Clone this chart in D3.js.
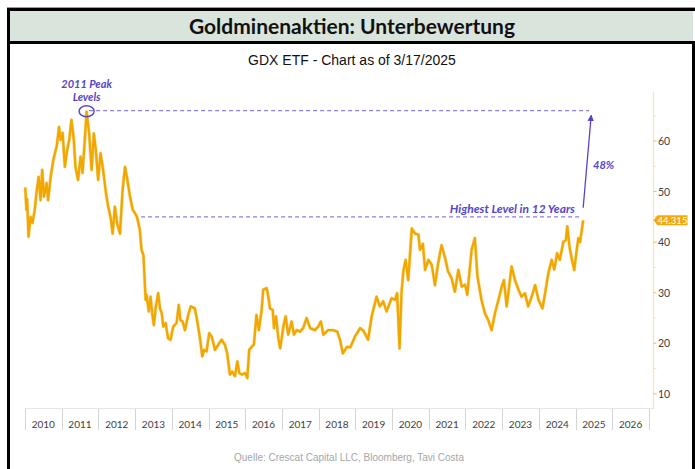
<!DOCTYPE html>
<html>
<head>
<meta charset="utf-8">
<script src="https://cdn.jsdelivr.net/npm/d3@7"></script>
<style>
  html, body { margin: 0; padding: 0; background: #fff; }
  svg { display: block; }
</style>
</head>
<body>
<div id="chart"></div>
<script>
// GDX price (roughly twice a month)
const dates = [
  "2010-01-04","2010-01-15","2010-01-22","2010-02-05","2010-02-25","2010-03-16","2010-04-08","2010-04-25","2010-05-17","2010-06-05","2010-06-21","2010-07-08","2010-08-04","2010-08-19","2010-09-13","2010-10-09","2010-10-26","2010-11-12","2010-12-06","2010-12-21",
  "2011-01-10","2011-02-02","2011-02-24","2011-03-17","2011-04-08","2011-05-02","2011-05-18","2011-06-13","2011-07-08","2011-07-27","2011-08-19","2011-09-06","2011-10-01","2011-10-26","2011-11-17","2011-12-07","2011-12-30",
  "2012-01-23","2012-02-17","2012-03-17","2012-04-08","2012-05-01","2012-05-22","2012-06-13","2012-07-06","2012-08-03","2012-08-29","2012-09-22","2012-10-16","2012-11-11","2012-12-08",
  "2013-01-01","2013-01-19","2013-02-03","2013-02-17","2013-03-05","2013-03-25","2013-04-15","2013-04-24","2013-05-17","2013-06-03","2013-06-19","2013-07-06","2013-07-26","2013-08-18","2013-09-05","2013-09-22","2013-10-08","2013-10-31","2013-11-25","2013-12-19",
  "2014-01-15","2014-02-17","2014-03-11","2014-03-27","2014-04-19","2014-05-11","2014-06-13","2014-07-08","2014-08-18","2014-09-09","2014-10-08","2014-10-31","2014-11-18","2014-12-13",
  "2015-01-08","2015-02-02","2015-03-07","2015-04-07","2015-05-11","2015-06-13","2015-07-05","2015-08-02","2015-08-25","2015-09-21","2015-10-15","2015-11-03","2015-11-28",
  "2016-01-01","2016-01-22","2016-02-10","2016-03-06","2016-03-28","2016-04-22","2016-05-16","2016-06-13","2016-06-28","2016-08-02","2016-08-18","2016-09-04","2016-10-01","2016-10-14","2016-11-03","2016-11-26","2016-12-14",
  "2017-01-15","2017-02-06","2017-03-04","2017-04-07","2017-04-30","2017-05-27","2017-06-28","2017-07-31","2017-09-03","2017-10-08","2017-11-25","2017-12-28",
  "2018-01-23","2018-02-17","2018-04-05","2018-05-25","2018-07-05","2018-08-01","2018-08-30","2018-10-10","2018-11-12","2018-12-28",
  "2019-02-17","2019-03-22","2019-05-08","2019-06-12","2019-07-31","2019-09-02","2019-10-05","2019-11-08","2019-12-28",
  "2020-01-30","2020-02-21","2020-03-16","2020-04-04","2020-04-22","2020-05-15","2020-06-10","2020-07-16","2020-08-18","2020-09-20","2020-10-05","2020-11-03","2020-11-25","2020-12-28",
  "2021-01-30","2021-03-03","2021-04-04","2021-05-08","2021-06-09","2021-07-12","2021-08-15","2021-09-17","2021-10-22","2021-11-25","2021-12-28",
  "2022-01-19","2022-03-03","2022-04-04","2022-04-30","2022-06-09","2022-07-12","2022-08-15","2022-09-18","2022-10-22","2022-11-25","2022-12-28",
  "2023-01-19","2023-02-15","2023-04-05","2023-05-08","2023-06-12","2023-07-13","2023-08-15","2023-09-17","2023-10-22","2023-11-25","2023-12-28",
  "2024-02-06","2024-03-03","2024-04-04","2024-05-08","2024-06-02","2024-07-01","2024-07-28","2024-09-01","2024-09-26","2024-10-10","2024-11-01","2024-11-25","2024-12-18",
  "2025-01-12","2025-01-28","2025-02-14","2025-03-17"
];
const prices = [
  50.8,46.4,48.5,41.1,45.0,43.8,46.4,49.7,52.9,48.3,54.3,49.0,51.7,48.3,52.9,56.2,57.6,58.9,62.8,60.2,
  61.6,54.9,58.2,60.2,64.2,60.2,54.9,52.3,56.9,53.7,60.2,65.8,61.5,54.3,61.5,58.2,52.3,
  57.6,54.3,49.7,47.0,45.0,41.7,47.0,43.7,41.7,50.3,54.9,52.3,49.0,46.4,
  45.7,45.0,43.7,42.4,38.5,37.4,28.6,29.6,26.3,29.2,26.0,23.6,27.3,29.9,26.9,26.0,23.3,24.0,21.0,20.7,
  23.3,24.0,27.6,24.6,24.3,22.6,25.6,27.3,26.9,24.6,21.0,17.4,18.7,18.4,
  22.0,21.3,18.7,19.7,20.7,19.7,18.1,13.8,14.4,13.5,16.4,14.1,13.8,
  14.1,13.1,18.7,19.3,19.8,25.6,22.6,26.6,30.6,30.9,29.2,26.9,26.6,23.0,25.3,21.0,19.0,
  23.3,25.3,21.7,24.3,21.7,22.6,22.3,23.0,25.0,23.0,22.6,23.3,
  24.3,21.7,22.6,22.6,22.3,20.7,18.0,19.3,19.2,21.3,
  23.0,22.5,20.7,25.3,29.2,27.3,28.3,26.3,28.9,
  28.6,29.9,19.0,29.9,34.2,36.5,32.5,42.7,41.7,41.5,38.5,39.7,34.5,36.5,
  35.5,31.5,35.8,39.4,37.1,34.2,32.9,30.2,34.5,31.2,31.6,
  29.6,38.5,40.8,33.2,28.6,26.0,24.6,22.6,26.0,28.6,31.2,
  32.5,27.3,35.2,32.5,30.6,29.2,29.9,27.3,29.2,31.5,28.6,
  26.9,29.9,33.8,36.5,34.6,37.8,36.5,40.1,40.4,43.1,39.1,36.5,34.5,
  38.5,40.8,40.0,44.315
];

const years = d3.range(2010, 2027);
const yTicks = [10, 20, 30, 40, 50, 60];
const yMinorTicks = [15, 25, 35, 45, 55, 65];

// annotation levels
const peakLevel = 66;
const highLevel = 45;
const lastPrice = 44.315;
const peakDate = "2011-09-06";

const W = 695, H = 469;
const parse = d3.timeParse("%Y-%m-%d");
const series = dates.map((d, i) => ({ date: parse(d), value: prices[i] }));

const svg = d3.select("#chart").append("svg").attr("width", W).attr("height", H);

// frame + header
svg.append("rect").attr("x", 8).attr("y", 10).attr("width", 685).attr("height", 32).attr("fill", "#d9e4dd");
svg.append("line").attr("x1", 7).attr("x2", 695).attr("y1", 7.5).attr("y2", 7.5).attr("stroke", "#9a9a9a").attr("stroke-width", 1);
svg.append("line").attr("x1", 7).attr("x2", 695).attr("y1", 9.5).attr("y2", 9.5).attr("stroke", "#000").attr("stroke-width", 3);
svg.append("line").attr("x1", 7).attr("x2", 695).attr("y1", 42.5).attr("y2", 42.5).attr("stroke", "#000").attr("stroke-width", 3);
svg.append("line").attr("x1", 8.5).attr("x2", 8.5).attr("y1", 8).attr("y2", H).attr("stroke", "#000").attr("stroke-width", 3);
svg.append("line").attr("x1", 693.5).attr("x2", 693.5).attr("y1", 41).attr("y2", H).attr("stroke", "#000").attr("stroke-width", 3);

svg.append("text").attr("x", 352).attr("y", 34).attr("text-anchor", "middle")
  .style("font-family", "Lato, 'Open Sans', sans-serif").style("font-weight", "bold").style("font-size", "21px")
  .attr("fill", "#111").text("Goldminenaktien: Unterbewertung");

svg.append("text").attr("x", 352).attr("y", 65).attr("text-anchor", "middle")
  .style("font-family", "'Liberation Sans', Arial, sans-serif").style("font-size", "14px")
  .attr("fill", "#111").text("GDX ETF - Chart as of 3/17/2025");

svg.append("text").attr("x", 349).attr("y", 461).attr("text-anchor", "middle")
  .style("font-family", "'Liberation Sans', Arial, sans-serif").style("font-size", "10px")
  .attr("fill", "#a6a6a6").text("Quelle: Crescat Capital LLC, Bloomberg, Tavi Costa");

// scales
const x = d3.scaleTime().domain([new Date(2010, 0, 1), new Date(2027, 0, 1)]).range([25, 649]);
const y = d3.scaleLinear().domain([7, 69.7]).range([409, 92]);

// x axis: year boxes
const gx = svg.append("g");
gx.append("line").attr("x1", 25).attr("x2", 653).attr("y1", 408.5).attr("y2", 408.5).attr("stroke", "#e6e6e6");
gx.selectAll("line.sep").data(d3.range(2010, 2028)).join("line").attr("class", "sep")
  .attr("x1", d => Math.round(x(new Date(d, 0, 1))) + 0.5).attr("x2", d => Math.round(x(new Date(d, 0, 1))) + 0.5)
  .attr("y1", 409).attr("y2", 430).attr("stroke", "#d4d4d4");
gx.selectAll("text").data(years).join("text")
  .attr("x", d => x(new Date(d, 6, 2))).attr("y", 428).attr("text-anchor", "middle")
  .style("font-family", "Lato, 'Open Sans', sans-serif").style("font-size", "10px").attr("fill", "#404040")
  .text(d => d);

// right y axis
const axisX = 653.5;
const gy = svg.append("g");
gy.append("line").attr("x1", axisX).attr("x2", axisX).attr("y1", 92).attr("y2", 409).attr("stroke", "#fbe3b0").attr("stroke-width", 1.2);
gy.selectAll("line.minor").data(yMinorTicks).join("line").attr("class", "minor")
  .attr("x1", axisX).attr("x2", axisX + 3).attr("y1", d => y(d)).attr("y2", d => y(d)).attr("stroke", "#fbe3b0");
gy.selectAll("line.major").data(yTicks).join("line").attr("class", "major")
  .attr("x1", axisX).attr("x2", axisX + 3).attr("y1", d => y(d)).attr("y2", d => y(d)).attr("stroke", "#f2b84a");
gy.selectAll("text").data(yTicks).join("text")
  .attr("x", axisX + 4.5).attr("y", d => y(d) + 4)
  .style("font-family", "Lato, 'Open Sans', sans-serif").style("font-size", "10.5px").attr("fill", "#404040")
  .text(d => d);

// annotation colour
const annot = "#5546c9";
const dashCol = "#8b80dd";

// dashed levels
svg.append("line")
  .attr("x1", x(new Date(2011, 9, 1))).attr("x2", x(new Date(2025, 4, 15)))
  .attr("y1", y(peakLevel)).attr("y2", y(peakLevel))
  .attr("stroke", dashCol).attr("stroke-width", 1.2).attr("stroke-dasharray", "4,3");
svg.append("line")
  .attr("x1", x(new Date(2013, 2, 1))).attr("x2", x(new Date(2025, 1, 10)))
  .attr("y1", y(highLevel)).attr("y2", y(highLevel))
  .attr("stroke", dashCol).attr("stroke-width", 1.2).attr("stroke-dasharray", "4,3");

// price line
const line = d3.line().x(d => x(d.date)).y(d => y(d.value));
svg.append("path").datum(series).attr("d", line)
  .attr("fill", "none").attr("stroke", "#f4b92e").attr("stroke-width", 3.4).attr("stroke-opacity", 0.45)
  .attr("stroke-linejoin", "round");
svg.append("path").datum(series).attr("d", line)
  .attr("fill", "none").attr("stroke", "#f0a700").attr("stroke-width", 2.3)
  .attr("stroke-linejoin", "round");

// peak circle + label
const pk = parse(peakDate);
svg.append("ellipse").attr("cx", x(pk)).attr("cy", y(peakLevel) + 0.5).attr("rx", 7.5).attr("ry", 5.5)
  .attr("fill", "none").attr("stroke", annot).attr("stroke-width", 1.4);
const lblFont = "Lato, 'Open Sans', sans-serif";
svg.append("text").attr("x", x(pk)).attr("y", 88).attr("text-anchor", "middle")
  .style("font-family", lblFont).style("font-weight", "bold").style("font-style", "italic").style("font-size", "11px")
  .attr("fill", annot).text("2011 Peak");
svg.append("text").attr("x", x(pk)).attr("y", 101).attr("text-anchor", "middle")
  .style("font-family", lblFont).style("font-weight", "bold").style("font-style", "italic").style("font-size", "11px")
  .attr("fill", annot).text("Levels");

svg.append("text").attr("x", 575).attr("y", 213).attr("text-anchor", "end")
  .style("font-family", lblFont).style("font-weight", "bold").style("font-style", "italic").style("font-size", "12px")
  .attr("fill", annot).text("Highest Level in 12 Years");

// arrow up to the peak level
svg.append("defs").append("marker").attr("id", "ah").attr("viewBox", "0 0 10 10")
  .attr("refX", 9).attr("refY", 5).attr("markerWidth", 5).attr("markerHeight", 5).attr("orient", "auto")
  .append("path").attr("d", "M0,0 L10,5 L0,10 z").attr("fill", annot);
svg.append("line")
  .attr("x1", x(parse("2025-03-17"))).attr("y1", y(46.8))
  .attr("x2", x(parse("2025-06-05"))).attr("y2", y(65.1))
  .attr("stroke", annot).attr("stroke-width", 1.3).attr("marker-end", "url(#ah)");
svg.append("text").attr("x", 593).attr("y", 169)
  .style("font-family", lblFont).style("font-weight", "bold").style("font-style", "italic").style("font-size", "11px")
  .attr("fill", annot).text("48%");

// last value tag
const ty = y(lastPrice);
svg.append("path")
  .attr("d", `M${axisX},${ty} L${axisX + 4},${ty - 5} L${axisX + 34},${ty - 5} L${axisX + 34},${ty + 5} L${axisX + 4},${ty + 5} Z`)
  .attr("fill", "#f4a90c");
svg.append("text").attr("x", axisX + 19).attr("y", ty + 3.5).attr("text-anchor", "middle")
  .style("font-family", lblFont).style("font-size", "9.5px").attr("fill", "#fff")
  .text(lastPrice);
</script>
</body>
</html>
